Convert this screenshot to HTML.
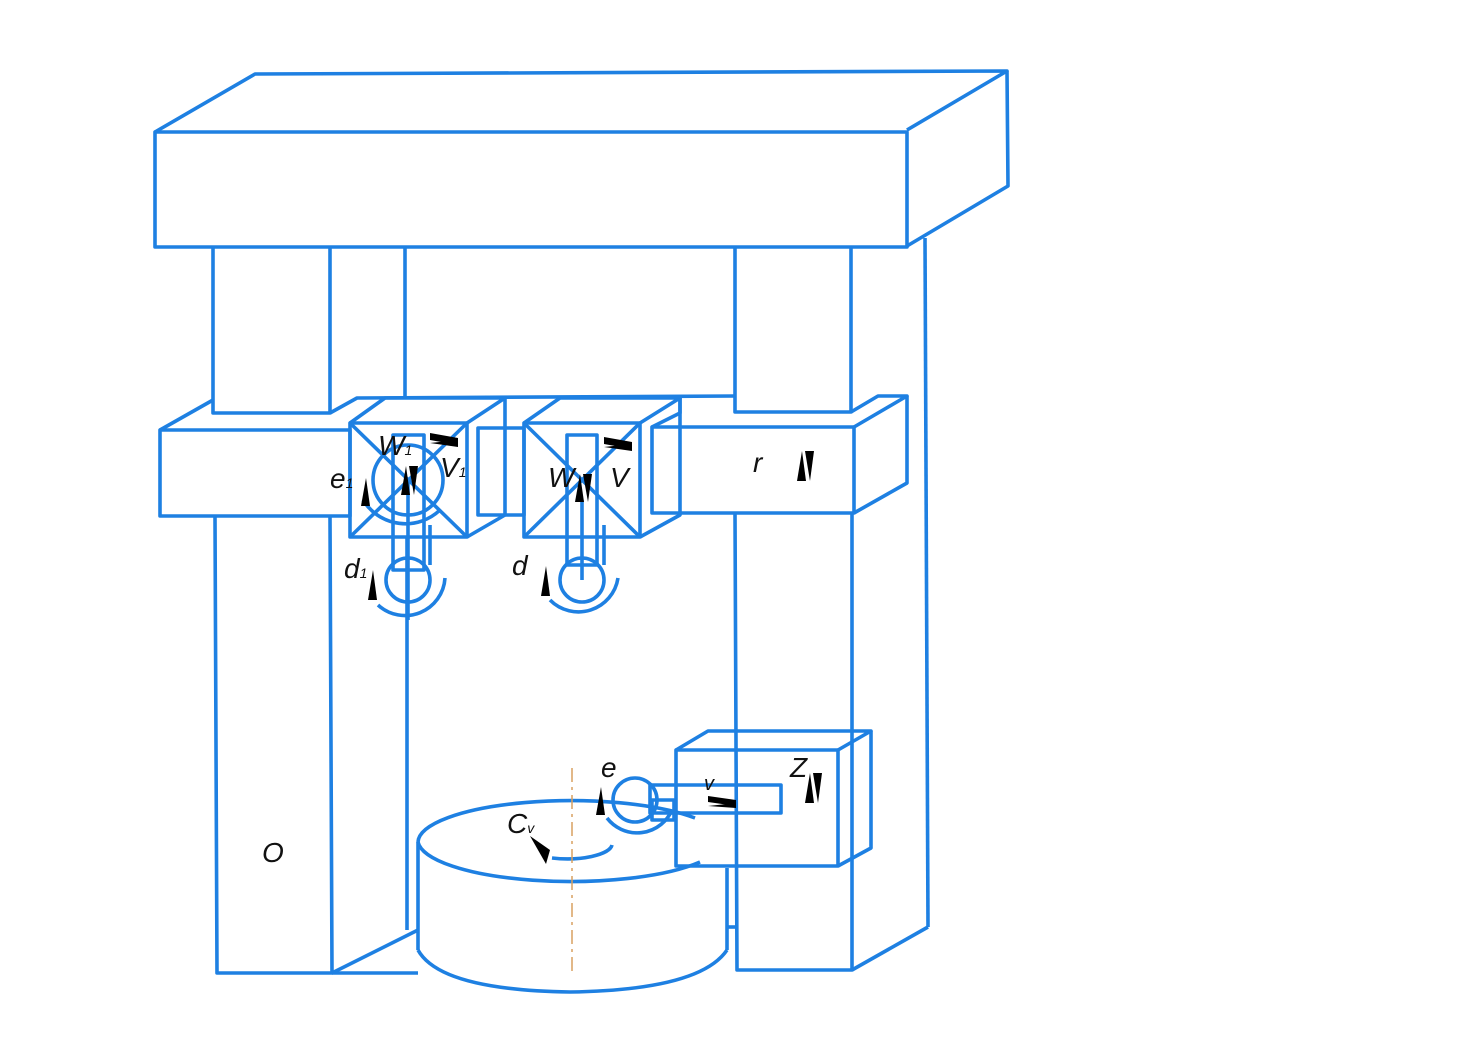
<!DOCTYPE html>
<html><head><meta charset="utf-8"><style>
html,body{margin:0;padding:0;background:#fff;width:1466px;height:1040px;overflow:hidden}
svg{display:block}
text{font-family:"Liberation Sans",sans-serif;font-style:italic;fill:#111}
</style></head><body>
<svg width="1466" height="1040" viewBox="0 0 1466 1040" xmlns="http://www.w3.org/2000/svg">
<g fill="none" stroke="#1e80e2" stroke-width="3.6" stroke-linejoin="round">
<rect x="155" y="132" width="752" height="115"/>
<polyline points="155,132 255,74 1007,71 907,130"/>
<polyline points="1007,71 1008,186 907,246"/>
<polyline points="213,248 213,413 330,413 330,248"/>
<polyline points="215,517 217,973 332,973 330,517"/>
<line x1="405" y1="248" x2="405" y2="398"/>
<line x1="407" y1="537" x2="407" y2="930"/>
<line x1="332" y1="973" x2="418" y2="930"/>
<polyline points="735,246 735,412 851,412 851,246"/>
<polyline points="735,513 737,970 852,970 852,513"/>
<line x1="925" y1="238" x2="928" y2="927"/>
<line x1="852" y1="970" x2="928" y2="927"/>
<line x1="332" y1="973" x2="418" y2="973"/>
<line x1="727" y1="927" x2="737" y2="927"/>
<rect x="160" y="430" width="190" height="86"/>
<polyline points="160,430 213,400"/>
<polyline points="330,413 357,398 735,396"/>
<rect x="652" y="427" width="202" height="86"/>
<polyline points="652,427 680,413 680,398"/>
<polyline points="851,412 878,396 907,396 854,427"/>
<polyline points="907,396 907,483 854,513"/>
<rect x="478" y="428" width="46" height="87"/>
<rect x="350" y="423" width="117" height="114"/>
<polyline points="350,423 385,398 505,398 467,423"/>
<polyline points="505,398 505,515 467,537"/>
<line x1="350" y1="423" x2="467" y2="537"/>
<line x1="467" y1="423" x2="350" y2="537"/>
<rect x="524" y="423" width="116" height="114"/>
<polyline points="524,423 560,398 680,398 640,423"/>
<polyline points="680,398 680,515 640,537"/>
<line x1="524" y1="423" x2="640" y2="537"/>
<line x1="640" y1="423" x2="524" y2="537"/>
<rect x="393" y="435" width="31" height="135"/>
<circle cx="408" cy="480" r="35"/>
<path d="M363,500 A50,50 0 0 0 440,510"/>
<line x1="408" y1="480" x2="408" y2="620"/>
<line x1="430" y1="525" x2="430" y2="565"/>
<circle cx="408" cy="580" r="22"/>
<path d="M378,605 A40,40 0 0 0 445,578"/>
<rect x="567" y="435" width="30" height="130"/>
<line x1="582" y1="500" x2="582" y2="580"/>
<line x1="604" y1="525" x2="604" y2="565"/>
<circle cx="582" cy="580" r="22"/>
<path d="M550,600 A40,40 0 0 0 618,578"/>
<path d="M418,842 A153,42 0 0 1 695,818"/>
<path d="M418,842 A153,42 0 0 0 700,862"/>
<line x1="418" y1="842" x2="418" y2="950"/>
<line x1="727" y1="868" x2="727" y2="950"/>
<path d="M418,950 Q440,990 570,992 Q700,990 727,950"/>
<path d="M552,858 A45,15 0 0 0 612,845"/>
<rect x="676" y="750" width="162" height="116"/>
<polyline points="676,750 708,731 871,731 838,750"/>
<polyline points="871,731 871,848 838,866"/>
<rect x="650" y="785" width="131" height="28"/>
<circle cx="635" cy="800" r="22"/>
<path d="M607,818 A38,38 0 0 0 672,810"/>
<rect x="652" y="800" width="22" height="20"/>
</g>
<line x1="572" y1="768" x2="572" y2="972" stroke="#d9a060" stroke-width="1.5" stroke-dasharray="14,5,3,5"/>
<g fill="#000">
<polygon points="430,433 458,438 458,445 430,440"/><polygon points="430,443 458,440 458,447"/>
<polygon points="604,437 632,442 632,449 604,444"/><polygon points="604,447 632,444 632,451"/>
<polygon points="708,796 736,800 736,806 708,802"/><polygon points="708,806 736,803 736,808"/>
<polygon points="401,495 406,466 410,495"/><polygon points="409,466 414,495 418,466"/>
<polygon points="575,502 580,474 584,502"/><polygon points="583,474 588,502 592,474"/>
<polygon points="361,506 366,478 370,506"/>
<polygon points="368,600 373,570 377,600"/>
<polygon points="541,596 546,566 550,596"/>
<polygon points="596,815 601,787 605,815"/>
<polygon points="797,481 802,451 806,481"/><polygon points="805,451 810,481 814,451"/>
<polygon points="805,803 810,773 814,803"/><polygon points="813,773 818,803 822,773"/>
<polygon points="530,836 550,850 546,864"/>
</g>
<g font-size="28">
<text x="378" y="455">W<tspan font-size="14">1</tspan></text>
<text x="440" y="477">V<tspan font-size="14">1</tspan></text>
<text x="330" y="488">e<tspan font-size="14">1</tspan></text>
<text x="548" y="487">W</text>
<text x="610" y="487">V</text>
<text x="344" y="578">d<tspan font-size="14">1</tspan></text>
<text x="512" y="575">d</text>
<text x="753" y="472">r</text>
<text x="601" y="777">e</text>
<text x="704" y="790" font-size="20">v</text>
<text x="790" y="777">Z</text>
<text x="507" y="833">C<tspan font-size="14">v</tspan></text>
<text x="262" y="862">O</text>
</g>
</svg>
</body></html>
